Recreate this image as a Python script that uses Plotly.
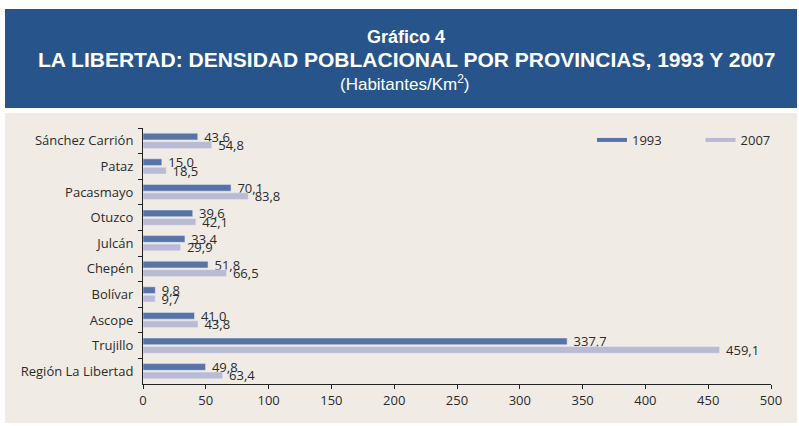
import plotly.graph_objects as go

categories = ["Sánchez Carrión", "Pataz", "Pacasmayo", "Otuzco", "Julcán",
              "Chepén", "Bolívar", "Ascope", "Trujillo", "Región La Libertad"]
values_1993 = [43.6, 15.0, 70.1, 39.6, 33.4, 51.8, 9.8, 41.0, 337.7, 49.8]
values_2007 = [54.8, 18.5, 83.8, 42.1, 29.9, 66.5, 9.7, 43.8, 459.1, 63.4]
x_ticks = [0, 50, 100, 150, 200, 250, 300, 350, 400, 450, 500]

C1993 = "#5874A6"
C2007 = "#B9BAD3"
BEIGE = "#F0EBE5"
BLUE = "#27548A"
TXT = "#2b2b2b"
NBSP = "\u00a0"

def fmt(v):
    return NBSP + f"{v:.1f}".replace(".", ",")

W, H = 799, 426
L, R, T, B = 143, 771, 128, 384

def px(x):
    return (x - L) / (R - L)

def py(y):
    return (B - y) / (B - T)

fig = go.Figure()
for name, vals, col in [("1993", values_1993, C1993), ("2007", values_2007, C2007)]:
    fig.add_trace(go.Bar(y=categories, x=vals, orientation="h", name=name,
                         marker_color=col, text=[fmt(v) for v in vals],
                         textposition="outside", constraintext="none",
                         cliponaxis=False, showlegend=False,
                         textfont=dict(size=13, color=TXT, family="Open Sans")))
# legend entries drawn as lines (spacing via trailing no-break spaces)
fig.add_trace(go.Scatter(x=[None], y=[None], mode="lines", name="1993" + NBSP * 10,
                         line=dict(color=C1993, width=4)))
fig.add_trace(go.Scatter(x=[None], y=[None], mode="lines", name="2007",
                         line=dict(color=C2007, width=4)))

shapes = [
    dict(type="rect", xref="paper", yref="paper", x0=px(5), x1=px(797),
         y0=py(108), y1=py(9), fillcolor=BLUE, line_width=0, layer="below"),
    dict(type="rect", xref="paper", yref="paper", x0=px(5), x1=px(797),
         y0=py(423), y1=py(113), fillcolor=BEIGE, line_width=0, layer="below"),
]

annotations = [
    dict(text="<b>Gráfico 4</b>", x=px(406), y=py(37), xref="paper", yref="paper",
         showarrow=False, font=dict(family="Liberation Sans", size=18, color="white"),
         xanchor="center", yanchor="middle"),
    dict(text="<b>LA LIBERTAD: DENSIDAD POBLACIONAL POR PROVINCIAS, 1993 Y 2007</b>",
         x=px(406), y=py(59), xref="paper", yref="paper", showarrow=False,
         font=dict(family="Liberation Sans", size=21, color="white"),
         xanchor="center", yanchor="middle"),
    dict(text="(Habitantes/Km<sup>2</sup>)", x=px(404), y=py(83), xref="paper",
         yref="paper", showarrow=False,
         font=dict(family="Liberation Sans", size=17, color="white"),
         xanchor="center", yanchor="middle"),
]

fig.update_layout(
    width=W, height=H, autosize=False,
    margin=dict(l=L, r=W - R, t=T, b=H - B, pad=0),
    paper_bgcolor="white", plot_bgcolor="rgba(0,0,0,0)",
    barmode="group", bargap=0.34, bargroupgap=0.2,
    font=dict(family="Open Sans", size=13, color=TXT),
    shapes=shapes, annotations=annotations,
    legend=dict(orientation="h", x=px(592), y=py(140), xanchor="left",
                yanchor="middle", bgcolor="rgba(0,0,0,0)", borderwidth=0,
                font=dict(size=13, color=TXT, family="Open Sans"),
                itemwidth=30, tracegroupgap=0),
)
fig.update_xaxes(range=[0, 500], tickvals=x_ticks, showgrid=False, zeroline=False,
                 showline=True, linecolor="#222", linewidth=1, ticks="outside",
                 ticklen=4, tickcolor="#222", tickfont=dict(size=13, color=TXT))
fig.update_yaxes(autorange="reversed", showgrid=False, showline=True,
                 linecolor="#222", linewidth=1, ticks="outside", ticklen=4,
                 tickcolor="#222", tickson="boundaries", ticklabelstandoff=6,
                 tickfont=dict(size=13, color=TXT))

fig.write_html("out.html",
               config={"responsive": False, "displayModeBar": False},
               post_script="document.body.style.margin='0';")
